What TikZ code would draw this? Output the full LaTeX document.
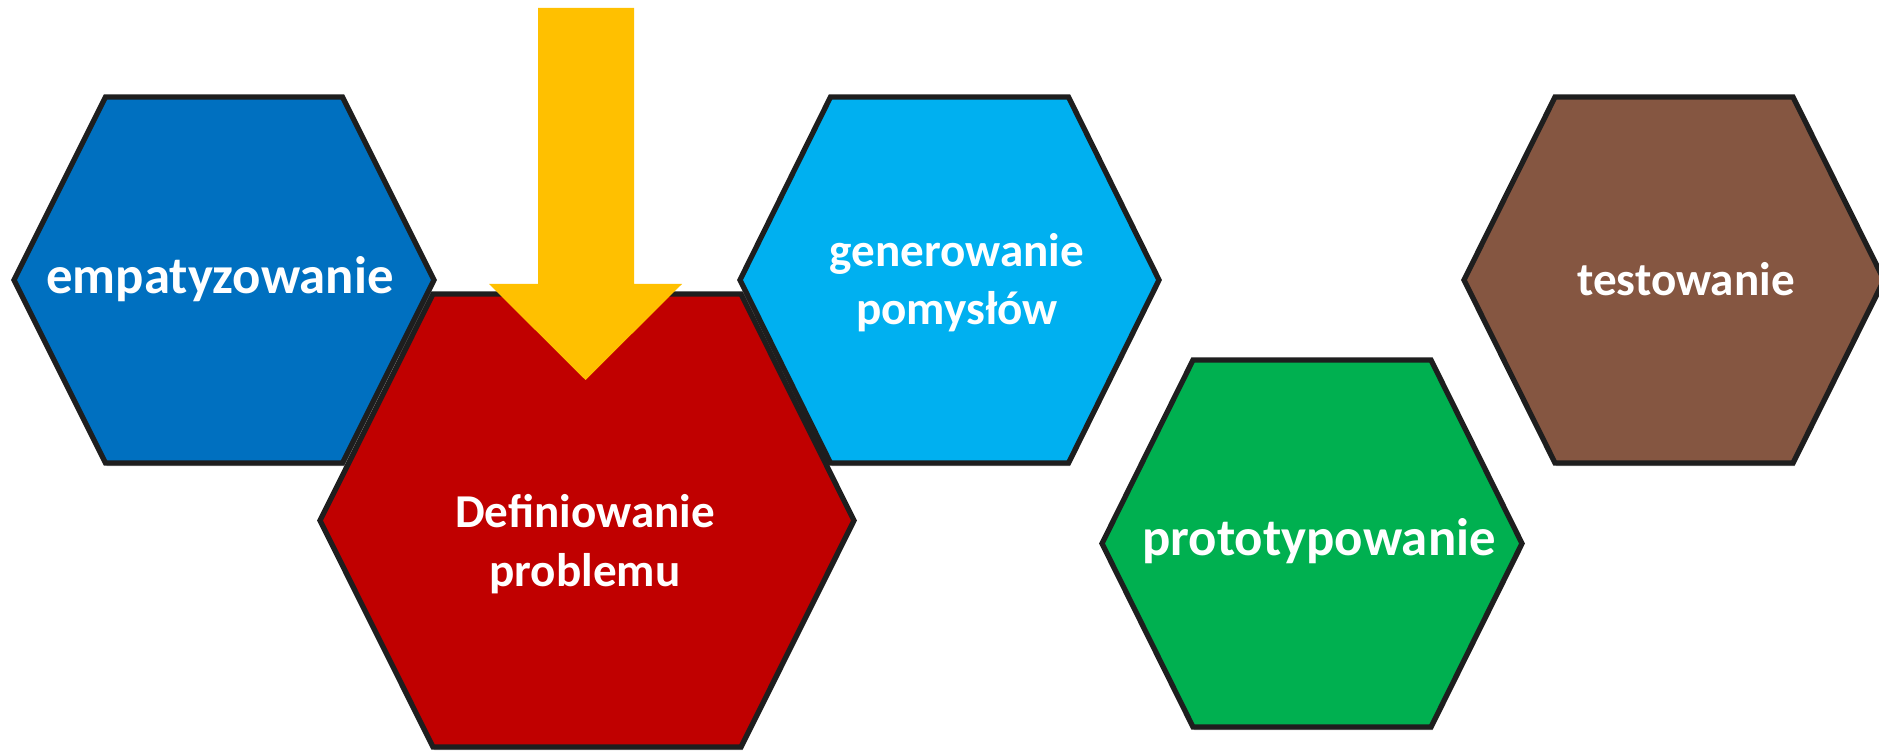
\documentclass[tikz,border=0pt]{standalone}
\usepackage{fontspec}
\setmainfont{Carlito}
\usetikzlibrary{shadows}

\definecolor{empblue}{HTML}{0070C0}
\definecolor{defred}{HTML}{C00000}
\definecolor{genblue}{HTML}{00B0F0}
\definecolor{protgreen}{HTML}{00B050}
\definecolor{testbrown}{HTML}{855641}
\definecolor{arrowyellow}{HTML}{FFC000}
\definecolor{hexline}{HTML}{1E1E1E}

% #1 fill, (#2,#3) centre, #4 half width, #5 half top edge, #6 half height
\newcommand{\hexagon}[6]{%
  \draw[hex,fill=#1] (#2-#4,#3) -- (#2-#5,#3-#6) -- (#2+#5,#3-#6)
    -- (#2+#4,#3) -- (#2+#5,#3+#6) -- (#2-#5,#3+#6) -- cycle;}

\begin{document}
\begin{tikzpicture}[x=0.01cm,y=-0.01cm,
      hex/.style={draw=hexline,line width=1.5pt,line join=miter,
        drop shadow={shadow xshift=0.4pt,shadow yshift=-0.9pt,fill=black,opacity=0.3}},
      lbl/.style={text=white,inner sep=0pt,align=center,anchor=base,
        font=\bfseries\fontsize{13.4}{16.5}\selectfont},
      biglbl/.style={lbl,font=\bfseries\fontsize{15}{18}\selectfont}]
    \useasboundingbox (0,0) rectangle (1879,752);
    \hexagon{empblue}{224}{280}{210}{118.5}{183}
    \hexagon{genblue}{949.5}{280}{209.5}{119}{183}
    \hexagon{protgreen}{1312}{543.5}{210}{119}{183.5}
    \hexagon{testbrown}{1674}{280}{210}{119}{183}
    \hexagon{defred}{587}{520.5}{267}{154}{226.5}
    \fill[arrowyellow] (538,8) -- (634,8) -- (634,284) -- (682,284)
      -- (585.5,380) -- (489,284) -- (538,284) -- cycle;
    \node[biglbl] (emp) at (220,294) {empatyzowanie};
    \node[lbl] (def) at (585,586) {Definiowanie\\problemu};
    \node[lbl] (gen) at (957,325) {generowanie\\pomysłów};
    \node[biglbl] (prot) at (1319,555) {prototypowanie};
    \node[lbl] (test) at (1686,296) {testowanie};
  \end{tikzpicture}
\end{document}
